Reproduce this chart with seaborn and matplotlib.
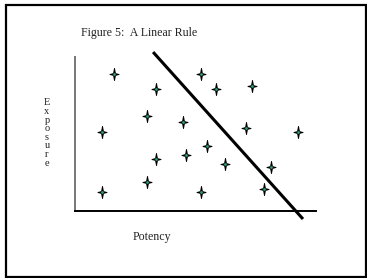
"""
Figure 5: A Linear Rule -- scatter of potency vs exposure with a separating line
"""

import numpy as np
import pandas as pd
import matplotlib
matplotlib.use("Agg")
import matplotlib.pyplot as plt
from matplotlib.path import Path
from matplotlib.patches import Rectangle
import seaborn as sns

# ── Data ────────────────────────────────────────────────────────────────────
potency  = [1.62, 1.12, 1.12, 3.36, 2.99, 4.48, 3.36, 2.99, 4.61, 5.48,
            5.23, 5.85, 7.34, 7.10, 9.25, 6.22, 8.13, 7.84, 5.23]
exposure = [8.90, 5.13, 1.23, 7.92, 6.17, 5.78, 3.38, 1.88, 3.64, 4.22,
            8.90, 7.92, 8.12, 5.39, 5.13, 3.05, 2.86, 1.43, 1.23]
rule_x   = [3.24, 9.46]
rule_y   = [10.32, -0.52]

df = pd.DataFrame({"potency": potency, "exposure": exposure})

# ── Style ───────────────────────────────────────────────────────────────────
sns.set_style("white")
plt.rcParams["font.family"] = ["Liberation Serif", "DejaVu Serif"]

W, H = 367, 278
fig = plt.figure(figsize=(W / 100, H / 100), dpi=100)
fig.patch.set_facecolor("white")

# outer frame
fig.patches.append(Rectangle((6 / W, 1.5 / H), 359.5 / W, 271.5 / H,
                             transform=fig.transFigure, fill=False,
                             edgecolor="black", linewidth=1.6))

ax = fig.add_axes([75 / W, 1 - 211 / H, 241 / W, 154 / H])
ax.set_xlim(0, 10)
ax.set_ylim(0, 10)

# four-pointed star marker (narrow, taller than wide)
star = Path([(0, 1), (0.15, 0.15), (0.75, 0), (0.15, -0.15), (0, -1),
             (-0.15, -0.15), (-0.75, 0), (-0.15, 0.15), (0, 1)],
            [Path.MOVETO] + [Path.LINETO] * 7 + [Path.CLOSEPOLY])

sns.scatterplot(data=df, x="potency", y="exposure", marker=star, s=75,
                color="black", edgecolor="black", linewidth=0.7, ax=ax,
                zorder=3)
sns.scatterplot(data=df, x="potency", y="exposure", marker="o", s=4,
                color="#2aa07a", linewidth=0, ax=ax, zorder=4)

ax.plot(rule_x, rule_y, color="black", linewidth=2.2, clip_on=False,
        solid_capstyle="butt", zorder=5)

for side in ["top", "right"]:
    ax.spines[side].set_visible(False)
ax.spines["left"].set_color("#777777")
ax.spines["left"].set_linewidth(1.4)
ax.spines["bottom"].set_color("black")
ax.spines["bottom"].set_linewidth(1.4)
ax.set_xticks([])
ax.set_yticks([])
ax.set_xlabel("")
ax.set_ylabel("")

# texts
fig.text(81 / W, 1 - 33 / H, "Figure 5:  A Linear Rule", fontsize=8.6,
         ha="left", va="center", color="#222222")
fig.text(47 / W, 1 - 133 / H, "\n".join("Exposure"), fontsize=7.5,
         ha="center", va="center", linespacing=0.95, color="#222222")
fig.text(152 / W, 1 - 237 / H, "Potency", fontsize=8.6,
         ha="center", va="center", color="#222222")

fig.savefig("out.png", dpi=100)
plt.close(fig)
